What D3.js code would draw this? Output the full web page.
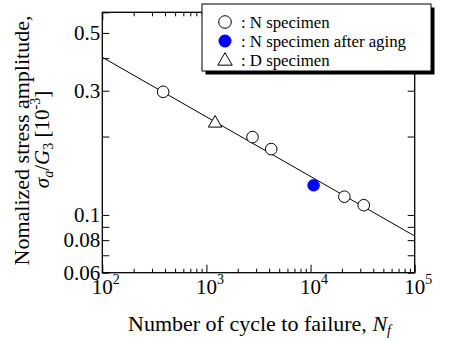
<!DOCTYPE html>
<html>
<head>
<meta charset="utf-8">
<script src="https://cdn.jsdelivr.net/npm/d3@7"></script>
<style>
  html, body { margin: 0; padding: 0; background: #fff; }
  svg { display: block; }
</style>
</head>
<body>
<svg id="chart" width="452" height="341"></svg>
<script>
// S-N data: cycles to failure vs normalized stress amplitude (x10^-3)
const nSpecCycles = [384, 2770, 4190, 21100, 32400];
const nSpecStress = [0.297, 0.199, 0.179, 0.1175, 0.109];
const agedCycles = [10700];
const agedStress = [0.130];
const dSpecCycles = [1210];
const dSpecStress = [0.225];
// Power-law fit line end points
const fitCycles = [100, 100000];
const fitStress = [0.403, 0.083];

const xMajor = [100, 1000, 10000, 100000];
const xExp = ["2", "3", "4", "5"];
const yTickValues = [0.06, 0.07, 0.08, 0.09, 0.1, 0.2, 0.3, 0.4, 0.5, 0.6];
const yTickLabels = ["0.06", "0.08", "0.1", "0.3", "0.5"];
const legendLabels = [": N specimen", ": N specimen after aging", ": D specimen"];

const FONT = "'Liberation Serif', 'Times New Roman', Times, serif";
const svg = d3.select("#chart").attr("font-family", FONT);
const plotL = 102.3, plotR = 414.7, plotT = 12.3, plotB = 272.7;

const x = d3.scaleLog().domain([100, 100000]).range([plotL, plotR]);
const y = d3.scaleLog().domain([0.06, 0.6]).range([plotB, plotT]);

// x minor ticks: 2..9 within each decade
const xMinor = [];
for (let d = 100; d < 100000; d *= 10) for (let k = 2; k <= 9; k++) xMinor.push(d * k);

const tickStroke = g => g.call(s => s.select(".domain").remove())
  .selectAll("line").attr("stroke", "#000").attr("stroke-width", 1);

// Inward ticks on all four sides
svg.append("g").attr("transform", `translate(0,${plotB})`)
  .call(d3.axisBottom(x).tickValues(xMajor).tickSize(-8).tickFormat("")).call(tickStroke);
svg.append("g").attr("transform", `translate(0,${plotB})`)
  .call(d3.axisBottom(x).tickValues(xMinor).tickSize(-4).tickFormat("")).call(tickStroke);
svg.append("g").attr("transform", `translate(0,${plotT})`)
  .call(d3.axisTop(x).tickValues(xMajor).tickSize(-8).tickFormat("")).call(tickStroke);
svg.append("g").attr("transform", `translate(0,${plotT})`)
  .call(d3.axisTop(x).tickValues(xMinor).tickSize(-4).tickFormat("")).call(tickStroke);
svg.append("g").attr("transform", `translate(${plotL},0)`)
  .call(d3.axisLeft(y).tickValues(yTickValues).tickSize(-7).tickFormat("")).call(tickStroke);
svg.append("g").attr("transform", `translate(${plotR},0)`)
  .call(d3.axisRight(y).tickValues(yTickValues).tickSize(-7).tickFormat("")).call(tickStroke);

// Frame
svg.append("rect").attr("x", plotL).attr("y", plotT)
  .attr("width", plotR - plotL).attr("height", plotB - plotT)
  .attr("fill", "none").attr("stroke", "#000").attr("stroke-width", 1.3);

// y tick labels
svg.append("g").selectAll("text").data(yTickLabels).join("text")
  .attr("x", plotL - 2).attr("y", d => y(+d)).attr("dy", "0.33em")
  .attr("text-anchor", "end").attr("font-size", 21).text(d => d);

// x tick labels: 10 with superscript exponent
const xl = svg.append("g").selectAll("g").data(xMajor).join("g");
xl.append("text").attr("x", d => x(d)).attr("y", 294)
  .attr("text-anchor", "middle").attr("font-size", 21).text("10");
xl.append("text").attr("x", d => x(d) + 10.5).attr("y", 284)
  .attr("font-size", 14).text((d, i) => xExp[i]);

// Axis titles
const xt = svg.append("text").attr("x", (plotL + plotR) / 2 + 1).attr("y", 331)
  .attr("text-anchor", "middle").attr("font-size", 22);
xt.append("tspan").text("Number of cycle to failure, ");
xt.append("tspan").attr("font-style", "italic").text("N");
xt.append("tspan").attr("font-style", "italic").attr("font-size", 14).attr("dy", 4).text("f");

svg.append("text")
  .attr("transform", `translate(29,${(plotT + plotB) / 2 - 2}) rotate(-90)`)
  .attr("text-anchor", "middle").attr("font-size", 22).text("Nomalized stress amplitude,");

const yt2 = svg.append("text")
  .attr("transform", `translate(49,${(plotT + plotB) / 2 - 3}) rotate(-90)`)
  .attr("text-anchor", "middle").attr("font-size", 21);
yt2.append("tspan").attr("font-style", "italic").text("σ");
yt2.append("tspan").attr("font-style", "italic").attr("font-size", 14).attr("dy", 4).text("a");
yt2.append("tspan").attr("dy", -4).text("/");
yt2.append("tspan").attr("font-style", "italic").text("G");
yt2.append("tspan").attr("font-size", 14).attr("dy", 4).text("3");
yt2.append("tspan").attr("dy", -4).text(" [10");
yt2.append("tspan").attr("font-size", 14).attr("dy", -9).text("-3");
yt2.append("tspan").attr("dy", 9).text("]");

// Fit line
const line = d3.line().x(d => x(d[0])).y(d => y(d[1]));
svg.append("path").datum(d3.zip(fitCycles, fitStress)).attr("d", line)
  .attr("fill", "none").attr("stroke", "#000").attr("stroke-width", 1);

// Markers
svg.append("g").selectAll("circle").data(d3.zip(nSpecCycles, nSpecStress)).join("circle")
  .attr("cx", d => x(d[0])).attr("cy", d => y(d[1])).attr("r", 5.8)
  .attr("fill", "#fff").attr("stroke", "#000").attr("stroke-width", 1);
svg.append("g").selectAll("circle").data(d3.zip(agedCycles, agedStress)).join("circle")
  .attr("cx", d => x(d[0])).attr("cy", d => y(d[1])).attr("r", 6)
  .attr("fill", "#0000ff").attr("stroke", "#0000ff").attr("stroke-width", 0.5);
const tri = d3.symbol().type(d3.symbolTriangle).size(78);
svg.append("g").selectAll("path").data(d3.zip(dSpecCycles, dSpecStress)).join("path")
  .attr("transform", d => `translate(${x(d[0])},${y(d[1])})`).attr("d", tri)
  .attr("fill", "#fff").attr("stroke", "#000").attr("stroke-width", 1);

// Legend with drop shadow
const lg = svg.append("g");
lg.append("rect").attr("x", 205.5).attr("y", 7.5).attr("width", 229).attr("height", 67).attr("fill", "#000");
lg.append("rect").attr("x", 202).attr("y", 4).attr("width", 229).attr("height", 67)
  .attr("fill", "#fff").attr("stroke", "#000").attr("stroke-width", 1);
const rowY = [22, 41, 60];
lg.append("circle").attr("cx", 225).attr("cy", rowY[0]).attr("r", 6.3)
  .attr("fill", "#fff").attr("stroke", "#000");
lg.append("circle").attr("cx", 225).attr("cy", rowY[1]).attr("r", 6.5)
  .attr("fill", "#0000ff");
lg.append("path").attr("transform", `translate(225,${rowY[2] + 1})`)
  .attr("d", d3.symbol().type(d3.symbolTriangle).size(90)())
  .attr("fill", "#fff").attr("stroke", "#000");
lg.selectAll("text.lab").data(legendLabels).join("text").attr("class", "lab")
  .attr("x", 241).attr("y", (d, i) => rowY[i]).attr("dy", "0.35em")
  .attr("font-size", 16.8).text(d => d);
</script>
</body>
</html>
